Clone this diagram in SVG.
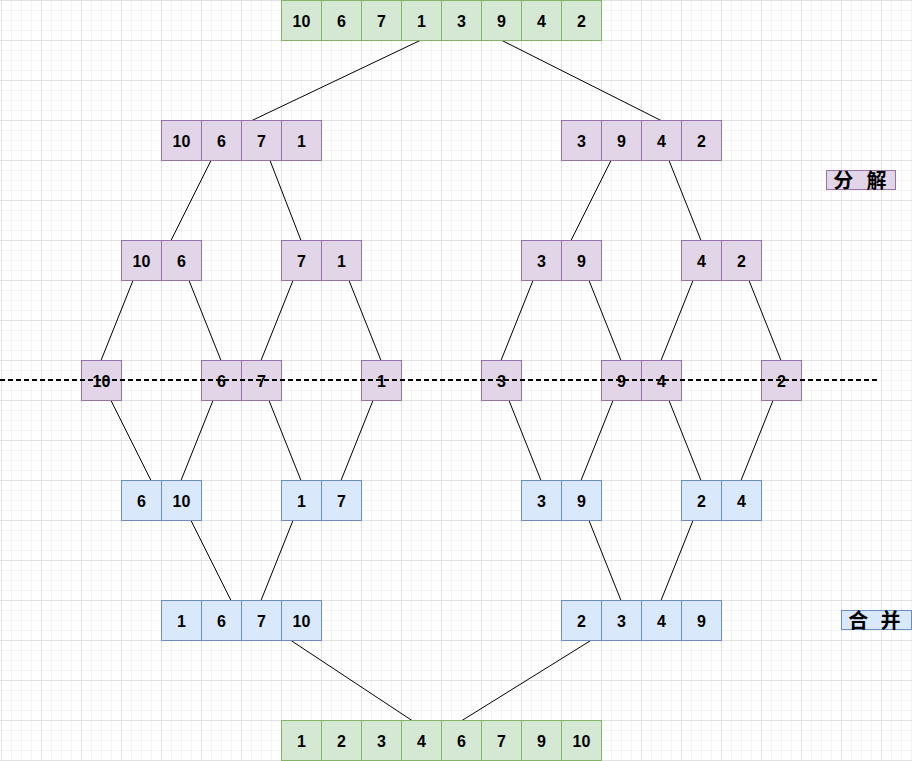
<svg xmlns="http://www.w3.org/2000/svg" width="912" height="761" viewBox="0 0 912 761">
<style>
.g rect{fill:#d5e8d4;stroke:#82b366;stroke-width:1}
.p rect{fill:#e1d5e7;stroke:#9673a6;stroke-width:1}
.b rect{fill:#dae8fc;stroke:#6c8ebf;stroke-width:1}
text.n{font-family:"Liberation Sans",Arial,sans-serif;font-weight:bold;font-size:16px;fill:#000;text-anchor:middle}
text.lab{font-family:"Noto Sans CJK SC",sans-serif;font-weight:bold;font-size:20px;fill:#000;text-anchor:middle}
#edges line{stroke:#000;stroke-width:1;fill:none}
.cut{stroke:#000;stroke-width:2;stroke-dasharray:5 3;fill:none}
</style>
<defs>
<pattern id="minor" width="10" height="10" patternUnits="userSpaceOnUse" x="1" y="0">
<path d="M0 0.5H10M0.5 0V10" stroke="#f3f3f3" stroke-width="1" fill="none"/>
</pattern>
<pattern id="major" width="40" height="40" patternUnits="userSpaceOnUse" x="1" y="0">
<path d="M0 0.5H40M0.5 0V40" stroke="#e2e2e2" stroke-width="1" fill="none"/>
</pattern>
</defs>
<rect width="912" height="761" fill="#fff"/>
<rect width="912" height="761" fill="url(#minor)"/>
<rect width="912" height="761" fill="url(#major)"/>

<g id="edges">
<line x1="420" y1="40.5" x2="252" y2="120.5"/>
<line x1="502" y1="40.5" x2="661" y2="120.5"/>
<line x1="211" y1="160.5" x2="171" y2="240.5"/>
<line x1="270" y1="160.5" x2="301" y2="240.5"/>
<line x1="611" y1="160.5" x2="571" y2="240.5"/>
<line x1="669" y1="160.5" x2="701" y2="240.5"/>
<line x1="133" y1="280.5" x2="101" y2="360.5"/>
<line x1="189" y1="280.5" x2="221" y2="360.5"/>
<line x1="293" y1="280.5" x2="261" y2="360.5"/>
<line x1="349" y1="280.5" x2="381" y2="360.5"/>
<line x1="533" y1="280.5" x2="501" y2="360.5"/>
<line x1="589" y1="280.5" x2="621" y2="360.5"/>
<line x1="693" y1="280.5" x2="661" y2="360.5"/>
<line x1="749" y1="280.5" x2="781" y2="360.5"/>
<line x1="111" y1="400.5" x2="151" y2="480.5"/>
<line x1="213" y1="400.5" x2="181" y2="480.5"/>
<line x1="269" y1="400.5" x2="301" y2="480.5"/>
<line x1="373" y1="400.5" x2="341" y2="480.5"/>
<line x1="509" y1="400.5" x2="541" y2="480.5"/>
<line x1="613" y1="400.5" x2="581" y2="480.5"/>
<line x1="669" y1="400.5" x2="701" y2="480.5"/>
<line x1="773" y1="400.5" x2="741" y2="480.5"/>
<line x1="191" y1="520.5" x2="231" y2="600.5"/>
<line x1="293" y1="520.5" x2="261" y2="600.5"/>
<line x1="589" y1="520.5" x2="621" y2="600.5"/>
<line x1="693" y1="520.5" x2="661" y2="600.5"/>
<line x1="291" y1="640.5" x2="412" y2="720.5"/>
<line x1="602" y1="633.5" x2="462" y2="720.5"/>
</g>

<g id="root" class="g">
<rect x="281.5" y="0.5" width="40" height="40"/><rect x="321.5" y="0.5" width="40" height="40"/><rect x="361.5" y="0.5" width="40" height="40"/><rect x="401.5" y="0.5" width="40" height="40"/><rect x="441.5" y="0.5" width="40" height="40"/><rect x="481.5" y="0.5" width="40" height="40"/><rect x="521.5" y="0.5" width="40" height="40"/><rect x="561.5" y="0.5" width="40" height="40"/>
<text class="n" x="301.5" y="26.5">10</text><text class="n" x="341.5" y="26.5">6</text><text class="n" x="381.5" y="26.5">7</text><text class="n" x="421.5" y="26.5">1</text><text class="n" x="461.5" y="26.5">3</text><text class="n" x="501.5" y="26.5">9</text><text class="n" x="541.5" y="26.5">4</text><text class="n" x="581.5" y="26.5">2</text>
</g>

<g id="split-left" class="p">
<rect x="161.5" y="120.5" width="40" height="40"/><rect x="201.5" y="120.5" width="40" height="40"/><rect x="241.5" y="120.5" width="40" height="40"/><rect x="281.5" y="120.5" width="40" height="40"/>
<text class="n" x="181.5" y="146.5">10</text><text class="n" x="221.5" y="146.5">6</text><text class="n" x="261.5" y="146.5">7</text><text class="n" x="301.5" y="146.5">1</text>
</g>
<g id="split-right" class="p">
<rect x="561.5" y="120.5" width="40" height="40"/><rect x="601.5" y="120.5" width="40" height="40"/><rect x="641.5" y="120.5" width="40" height="40"/><rect x="681.5" y="120.5" width="40" height="40"/>
<text class="n" x="581.5" y="146.5">3</text><text class="n" x="621.5" y="146.5">9</text><text class="n" x="661.5" y="146.5">4</text><text class="n" x="701.5" y="146.5">2</text>
</g>

<g id="s2-a" class="p">
<rect x="121.5" y="240.5" width="40" height="40"/><rect x="161.5" y="240.5" width="40" height="40"/>
<text class="n" x="141.5" y="266.5">10</text><text class="n" x="181.5" y="266.5">6</text>
</g>
<g id="s2-b" class="p">
<rect x="281.5" y="240.5" width="40" height="40"/><rect x="321.5" y="240.5" width="40" height="40"/>
<text class="n" x="301.5" y="266.5">7</text><text class="n" x="341.5" y="266.5">1</text>
</g>
<g id="s2-c" class="p">
<rect x="521.5" y="240.5" width="40" height="40"/><rect x="561.5" y="240.5" width="40" height="40"/>
<text class="n" x="541.5" y="266.5">3</text><text class="n" x="581.5" y="266.5">9</text>
</g>
<g id="s2-d" class="p">
<rect x="681.5" y="240.5" width="40" height="40"/><rect x="721.5" y="240.5" width="40" height="40"/>
<text class="n" x="701.5" y="266.5">4</text><text class="n" x="741.5" y="266.5">2</text>
</g>

<g id="s3-1" class="p"><rect x="81.5" y="360.5" width="40" height="40"/><text class="n" x="101.5" y="386.5">10</text></g>
<g id="s3-2" class="p"><rect x="201.5" y="360.5" width="40" height="40"/><text class="n" x="221.5" y="386.5">6</text></g>
<g id="s3-3" class="p"><rect x="241.5" y="360.5" width="40" height="40"/><text class="n" x="261.5" y="386.5">7</text></g>
<g id="s3-4" class="p"><rect x="361.5" y="360.5" width="40" height="40"/><text class="n" x="381.5" y="386.5">1</text></g>
<g id="s3-5" class="p"><rect x="481.5" y="360.5" width="40" height="40"/><text class="n" x="501.5" y="386.5">3</text></g>
<g id="s3-6" class="p"><rect x="601.5" y="360.5" width="40" height="40"/><text class="n" x="621.5" y="386.5">9</text></g>
<g id="s3-7" class="p"><rect x="641.5" y="360.5" width="40" height="40"/><text class="n" x="661.5" y="386.5">4</text></g>
<g id="s3-8" class="p"><rect x="761.5" y="360.5" width="40" height="40"/><text class="n" x="781.5" y="386.5">2</text></g>

<g id="m1-a" class="b">
<rect x="121.5" y="480.5" width="40" height="40"/><rect x="161.5" y="480.5" width="40" height="40"/>
<text class="n" x="141.5" y="506.5">6</text><text class="n" x="181.5" y="506.5">10</text>
</g>
<g id="m1-b" class="b">
<rect x="281.5" y="480.5" width="40" height="40"/><rect x="321.5" y="480.5" width="40" height="40"/>
<text class="n" x="301.5" y="506.5">1</text><text class="n" x="341.5" y="506.5">7</text>
</g>
<g id="m1-c" class="b">
<rect x="521.5" y="480.5" width="40" height="40"/><rect x="561.5" y="480.5" width="40" height="40"/>
<text class="n" x="541.5" y="506.5">3</text><text class="n" x="581.5" y="506.5">9</text>
</g>
<g id="m1-d" class="b">
<rect x="681.5" y="480.5" width="40" height="40"/><rect x="721.5" y="480.5" width="40" height="40"/>
<text class="n" x="701.5" y="506.5">2</text><text class="n" x="741.5" y="506.5">4</text>
</g>

<g id="m2-left" class="b">
<rect x="161.5" y="600.5" width="40" height="40"/><rect x="201.5" y="600.5" width="40" height="40"/><rect x="241.5" y="600.5" width="40" height="40"/><rect x="281.5" y="600.5" width="40" height="40"/>
<text class="n" x="181.5" y="626.5">1</text><text class="n" x="221.5" y="626.5">6</text><text class="n" x="261.5" y="626.5">7</text><text class="n" x="301.5" y="626.5">10</text>
</g>
<g id="m2-right" class="b">
<rect x="561.5" y="600.5" width="40" height="40"/><rect x="601.5" y="600.5" width="40" height="40"/><rect x="641.5" y="600.5" width="40" height="40"/><rect x="681.5" y="600.5" width="40" height="40"/>
<text class="n" x="581.5" y="626.5">2</text><text class="n" x="621.5" y="626.5">3</text><text class="n" x="661.5" y="626.5">4</text><text class="n" x="701.5" y="626.5">9</text>
</g>

<g id="result" class="g">
<rect x="281.5" y="720.5" width="40" height="40"/><rect x="321.5" y="720.5" width="40" height="40"/><rect x="361.5" y="720.5" width="40" height="40"/><rect x="401.5" y="720.5" width="40" height="40"/><rect x="441.5" y="720.5" width="40" height="40"/><rect x="481.5" y="720.5" width="40" height="40"/><rect x="521.5" y="720.5" width="40" height="40"/><rect x="561.5" y="720.5" width="40" height="40"/>
<text class="n" x="301.5" y="746.5">1</text><text class="n" x="341.5" y="746.5">2</text><text class="n" x="381.5" y="746.5">3</text><text class="n" x="421.5" y="746.5">4</text><text class="n" x="461.5" y="746.5">6</text><text class="n" x="501.5" y="746.5">7</text><text class="n" x="541.5" y="746.5">9</text><text class="n" x="581.5" y="746.5">10</text>
</g>

<g id="label-split" class="p">
<rect x="826.5" y="170.5" width="69" height="19"/>
<text class="lab" y="188"><tspan x="845.5">分</tspan> <tspan x="876.5">解</tspan></text>
</g>
<g id="label-merge" class="b">
<rect x="841.5" y="610.5" width="70" height="19"/>
<text class="lab" y="628"><tspan x="860.5">合</tspan> <tspan x="890.5">并</tspan></text>
</g>

<line class="cut" x1="0" y1="380" x2="880" y2="380"/>
</svg>
